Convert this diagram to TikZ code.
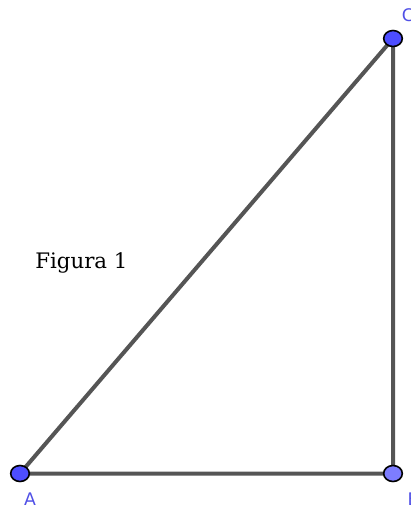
\documentclass[tikz,border=0pt]{standalone}
\usepackage{fontspec}
\setmainfont{Liberation Serif}
\newfontfamily\figfont{DejaVu Serif}
\newfontfamily\lblfont{DejaVu Sans}
\definecolor{edgegray}{HTML}{555555}
\definecolor{ptblue}{HTML}{4D4DFF}
\definecolor{ptlight}{HTML}{7D7DFF}
\definecolor{lblblue}{HTML}{5050E6}
\usetikzlibrary{shapes.geometric}
\tikzset{
  edge/.style={draw=edgegray, line width=3pt},
  pt/.style={ellipse, draw=black, line width=1.2pt, minimum width=14pt, minimum height=12pt, inner sep=0pt},
  lbl/.style={text=lblblue, font=\lblfont\fontsize{13}{15}\selectfont, inner sep=0pt}
}
\begin{document}
\begin{tikzpicture}[x=0.75pt,y=-0.75pt]
\useasboundingbox (0,0) rectangle (411,508);
\clip (0,0) rectangle (411,508);
\coordinate (a) at (20,473.5);
\coordinate (b) at (393,473.5);
\coordinate (c) at (393,38.5);
\draw[edge] (a) -- (b) -- (c) -- cycle;
\node[pt, fill=ptblue] (A) at (a) {};
\node[pt, fill=ptlight] (B) at (b) {};
\node[pt, fill=ptblue] (C) at (c) {};
\node[lbl] (lA) at (30,499) {A};
\node[lbl] (lB) at (413.5,499) {B};
\node[lbl] (lC) at (408,15) {C};
\node[font=\figfont\fontsize{16}{19}\selectfont, inner sep=0pt, anchor=base west] (fig) at (35,268) {Figura 1};
\end{tikzpicture}
\end{document}
